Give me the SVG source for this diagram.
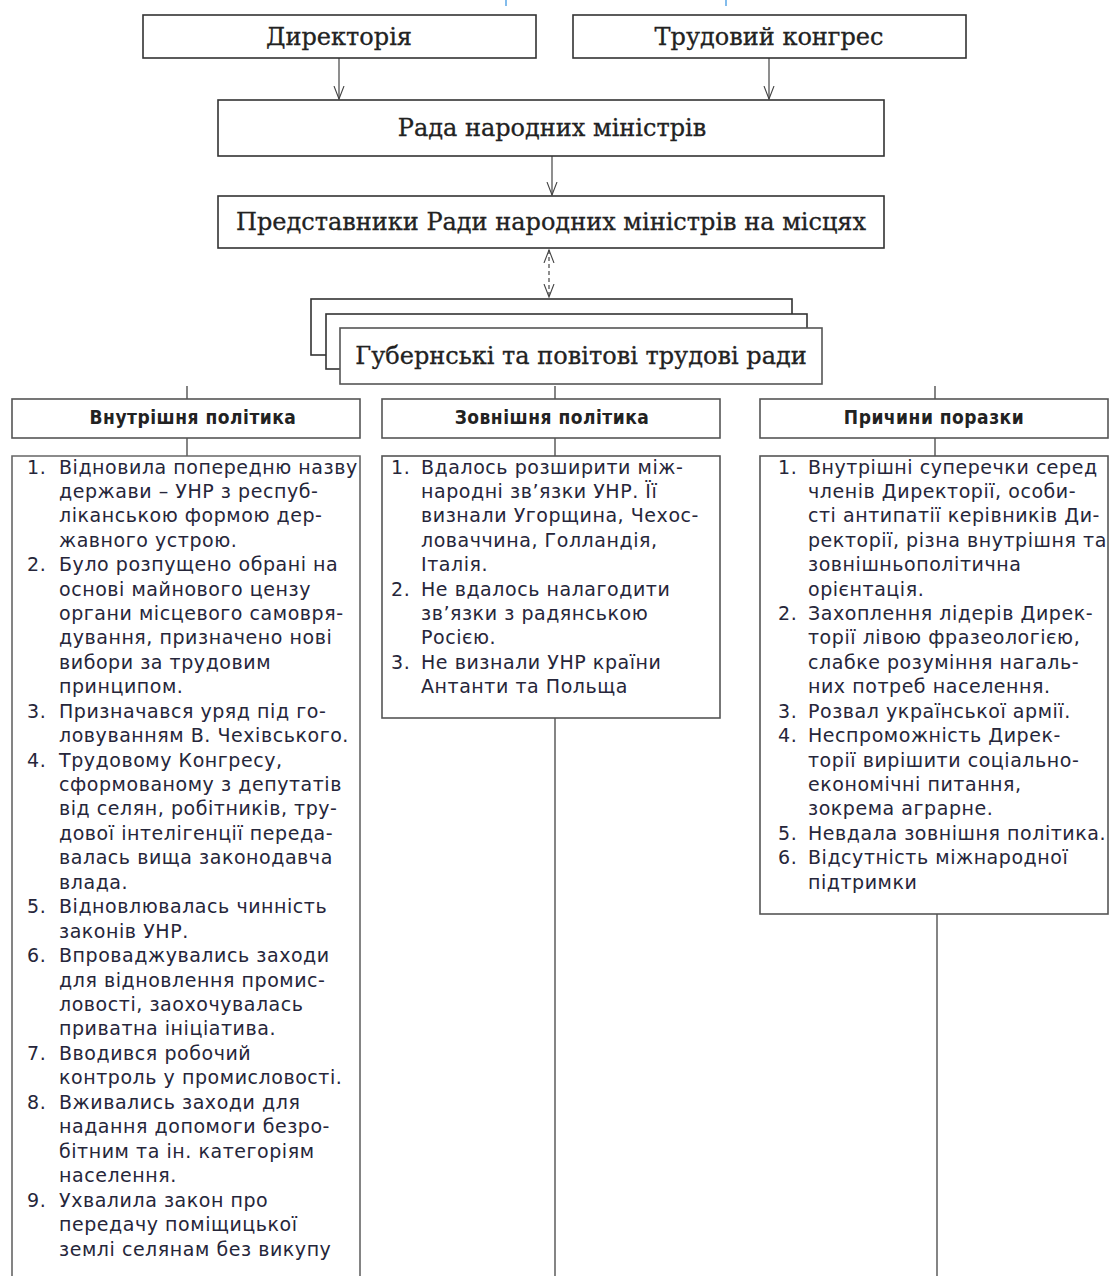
<svg xmlns="http://www.w3.org/2000/svg" width="1112" height="1276" viewBox="0 0 1112 1276">
<style>
.box{fill:#fff;stroke:#333;stroke-width:1.6}
.gbox{fill:#fff;stroke:#555;stroke-width:1.6}
.ser{font-family:"DejaVu Serif","Liberation Serif",serif;font-size:24px;fill:#222;stroke:#222;stroke-width:0.3;text-anchor:middle}
.hd{font-family:"DejaVu Sans Condensed","DejaVu Sans","Liberation Sans",sans-serif;font-size:19px;font-weight:bold;letter-spacing:0.5px;fill:#222;text-anchor:middle}
.li{font-family:"DejaVu Sans","Liberation Sans",sans-serif;font-size:19px;letter-spacing:0.55px;fill:#26263a}
.ln{stroke:#444;stroke-width:1.2;fill:none}
.gl{stroke:#666;stroke-width:1.6;fill:none}
</style>
<defs>
<marker id="arr" viewBox="0 0 14 12" refX="13" refY="6" markerWidth="14" markerHeight="12" markerUnits="userSpaceOnUse" orient="auto-start-reverse">
<polyline points="0,1 13,6 0,11" fill="none" stroke="#444" stroke-width="1.1"/>
</marker>
</defs>
<rect width="1112" height="1276" fill="#fff"/>
<line x1="506" y1="0" x2="506" y2="6" stroke="#5aa6e6" stroke-width="1.5"/>
<line x1="726" y1="0" x2="726" y2="6" stroke="#5aa6e6" stroke-width="1.5"/>

<g id="connectors">
<line class="ln" x1="339" y1="58" x2="339" y2="99" marker-end="url(#arr)"/>
<line class="ln" x1="769" y1="58" x2="769" y2="99" marker-end="url(#arr)"/>
<line class="ln" x1="552" y1="156" x2="552" y2="195" marker-end="url(#arr)"/>
<line class="ln" x1="549" y1="250" x2="549" y2="297" stroke-dasharray="4,3" marker-start="url(#arr)" marker-end="url(#arr)"/>
<line class="gl" x1="187" y1="386" x2="187" y2="399"/>
<line class="gl" x1="555" y1="386" x2="555" y2="399"/>
<line class="gl" x1="935" y1="386" x2="935" y2="399"/>
<line class="gl" x1="187" y1="438" x2="187" y2="456"/>
<line class="gl" x1="555" y1="438" x2="555" y2="456"/>
<line class="gl" x1="935" y1="438" x2="935" y2="456"/>
<line class="gl" x1="555" y1="718" x2="555" y2="1276"/>
<line class="gl" x1="937" y1="914" x2="937" y2="1276"/>
</g>

<g id="dyrektoriia"><rect class="box" x="143" y="15" width="393" height="43"/><text class="ser" x="339" y="45">Директорія</text></g>
<g id="trudovyi-konhres"><rect class="box" x="573" y="15" width="393" height="43"/><text class="ser" x="769" y="45">Трудовий конгрес</text></g>
<g id="rada"><rect class="box" x="218" y="100" width="666" height="56"/><text class="ser" x="552" y="136">Рада народних міністрів</text></g>
<g id="predstavnyky"><rect class="box" x="218" y="196" width="666" height="52"/><text class="ser" x="551" y="230">Представники Ради народних міністрів на місцях</text></g>
<g id="hubernski">
<rect class="box" x="311" y="299" width="481" height="56"/>
<rect class="box" x="326" y="314" width="481" height="55"/>
<rect class="gbox" x="340" y="328" width="482" height="56"/>
<text class="ser" x="581" y="364">Губернські та повітові трудові ради</text>
</g>

<g id="h-vnutr"><rect class="gbox" x="12" y="399" width="348" height="39"/><text class="hd" x="193" y="424">Внутрішня політика</text></g>
<g id="h-zovn"><rect class="gbox" x="382" y="399" width="338" height="39"/><text class="hd" x="552" y="424">Зовнішня політика</text></g>
<g id="h-pryc"><rect class="gbox" x="760" y="399" width="348" height="39"/><text class="hd" x="934" y="424">Причини поразки</text></g>

<g id="l-vnutr">
<path class="gl" d="M12,1277 V456 H360 V1277"/>
<text class="li">
<tspan x="27" y="474">1.</tspan><tspan x="59" y="474">Відновила попередню назву</tspan>
<tspan x="59" y="498">держави – УНР з респуб-</tspan>
<tspan x="59" y="522">ліканською формою дер-</tspan>
<tspan x="59" y="547">жавного устрою.</tspan>
<tspan x="27" y="571">2.</tspan><tspan x="59" y="571">Було розпущено обрані на</tspan>
<tspan x="59" y="596">основі майнового цензу</tspan>
<tspan x="59" y="620">органи місцевого самовря-</tspan>
<tspan x="59" y="644">дування, призначено нові</tspan>
<tspan x="59" y="669">вибори за трудовим</tspan>
<tspan x="59" y="693">принципом.</tspan>
<tspan x="27" y="718">3.</tspan><tspan x="59" y="718">Призначався уряд під го-</tspan>
<tspan x="59" y="742">ловуванням В. Чехівського.</tspan>
<tspan x="27" y="767">4.</tspan><tspan x="59" y="767">Трудовому Конгресу,</tspan>
<tspan x="59" y="791">сформованому з депутатів</tspan>
<tspan x="59" y="815">від селян, робітників, тру-</tspan>
<tspan x="59" y="840">дової інтелігенції переда-</tspan>
<tspan x="59" y="864">валась вища законодавча</tspan>
<tspan x="59" y="889">влада.</tspan>
<tspan x="27" y="913">5.</tspan><tspan x="59" y="913">Відновлювалась чинність</tspan>
<tspan x="59" y="938">законів УНР.</tspan>
<tspan x="27" y="962">6.</tspan><tspan x="59" y="962">Впроваджувались заходи</tspan>
<tspan x="59" y="987">для відновлення промис-</tspan>
<tspan x="59" y="1011">ловості, заохочувалась</tspan>
<tspan x="59" y="1035">приватна ініціатива.</tspan>
<tspan x="27" y="1060">7.</tspan><tspan x="59" y="1060">Вводився робочий</tspan>
<tspan x="59" y="1084">контроль у промисловості.</tspan>
<tspan x="27" y="1109">8.</tspan><tspan x="59" y="1109">Вживались заходи для</tspan>
<tspan x="59" y="1133">надання допомоги безро-</tspan>
<tspan x="59" y="1158">бітним та ін. категоріям</tspan>
<tspan x="59" y="1182">населення.</tspan>
<tspan x="27" y="1207">9.</tspan><tspan x="59" y="1207">Ухвалила закон про</tspan>
<tspan x="59" y="1231">передачу поміщицької</tspan>
<tspan x="59" y="1256">землі селянам без викупу</tspan>
</text>
</g>

<g id="l-zovn">
<rect class="gbox" x="382" y="456" width="338" height="262"/>
<text class="li">
<tspan x="391" y="474">1.</tspan><tspan x="421" y="474">Вдалось розширити між-</tspan>
<tspan x="421" y="498">народні зв’язки УНР. Її</tspan>
<tspan x="421" y="522">визнали Угорщина, Чехос-</tspan>
<tspan x="421" y="547">ловаччина, Голландія,</tspan>
<tspan x="421" y="571">Італія.</tspan>
<tspan x="391" y="596">2.</tspan><tspan x="421" y="596">Не вдалось налагодити</tspan>
<tspan x="421" y="620">зв’язки з радянською</tspan>
<tspan x="421" y="644">Росією.</tspan>
<tspan x="391" y="669">3.</tspan><tspan x="421" y="669">Не визнали УНР країни</tspan>
<tspan x="421" y="693">Антанти та Польща</tspan>
</text>
</g>

<g id="l-pryc">
<rect class="gbox" x="760" y="456" width="348" height="458"/>
<text class="li">
<tspan x="778" y="474">1.</tspan><tspan x="808" y="474">Внутрішні суперечки серед</tspan>
<tspan x="808" y="498">членів Директорії, особи-</tspan>
<tspan x="808" y="522">сті антипатії керівників Ди-</tspan>
<tspan x="808" y="547">ректорії, різна внутрішня та</tspan>
<tspan x="808" y="571">зовнішньополітична</tspan>
<tspan x="808" y="596">орієнтація.</tspan>
<tspan x="778" y="620">2.</tspan><tspan x="808" y="620">Захоплення лідерів Дирек-</tspan>
<tspan x="808" y="644">торії лівою фразеологією,</tspan>
<tspan x="808" y="669">слабке розуміння нагаль-</tspan>
<tspan x="808" y="693">них потреб населення.</tspan>
<tspan x="778" y="718">3.</tspan><tspan x="808" y="718">Розвал української армії.</tspan>
<tspan x="778" y="742">4.</tspan><tspan x="808" y="742">Неспроможність Дирек-</tspan>
<tspan x="808" y="767">торії вирішити соціально-</tspan>
<tspan x="808" y="791">економічні питання,</tspan>
<tspan x="808" y="815">зокрема аграрне.</tspan>
<tspan x="778" y="840">5.</tspan><tspan x="808" y="840">Невдала зовнішня політика.</tspan>
<tspan x="778" y="864">6.</tspan><tspan x="808" y="864">Відсутність міжнародної</tspan>
<tspan x="808" y="889">підтримки</tspan>
</text>
</g>
</svg>
